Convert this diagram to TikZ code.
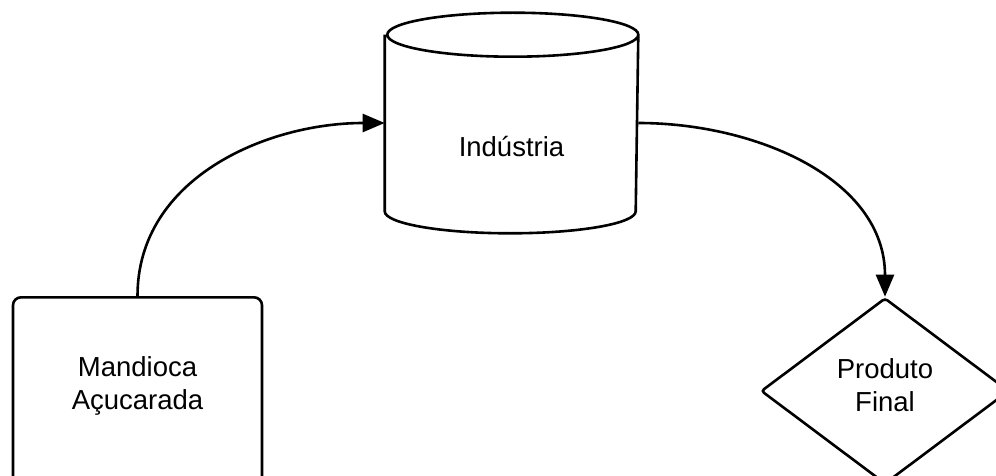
\documentclass[tikz,border=0pt]{standalone}
\usepackage{fontspec}
\setmainfont{Liberation Sans}
\usetikzlibrary{shapes.geometric,arrows.meta}

\begin{document}
\begin{tikzpicture}[x=1pt,y=1pt,
  every node/.style={font=\fontsize{27.5}{33}\selectfont, align=center},
  box/.style={draw, line width=2.6pt, rounded corners=8pt,
    minimum width=249pt, minimum height=230pt},
  tank/.style={line width=2.6pt, minimum width=251pt, minimum height=218pt,
    text height=68pt},
  choice/.style={draw, line width=2.6pt, diamond, rounded corners=3pt,
    minimum width=248pt, minimum height=186pt},
  conn/.style={line width=2.6pt, -{Triangle[length=22pt,width=18pt]}}]

\useasboundingbox (0,0) rectangle (996,-476);
\clip (0,0) rectangle (996,-476);

% raw material (cut off at the bottom)
\node[box, anchor=north,
  label={[name=mandtxt, yshift=26pt]center:Mandioca\\Açucarada}]
  (mand) at (137.5,-296) {};

% factory: drum outline around the node
\node[tank] (ind) at (511.5,-123) {Indústria};
\draw[line width=2.6pt] ([yshift=-22pt]ind.north west) -- ([yshift=22pt]ind.south west)
  arc[start angle=180, end angle=360, x radius=125.5pt, y radius=22pt]
  -- ([yshift=-22pt]ind.north east)
  arc[start angle=0, end angle=360, x radius=125.5pt, y radius=22pt];

% end product (cut off at the right and bottom)
\node[choice, label={[name=prodtxt, yshift=6pt]center:Produto\\Final}]
  (prod) at (885,-391) {};

% flows
\draw[conn] (mand.north) to[out=90,in=180] (ind.west);
\draw[conn] (ind.east) to[out=0,in=90] (prod.north);

\end{tikzpicture}
\end{document}
